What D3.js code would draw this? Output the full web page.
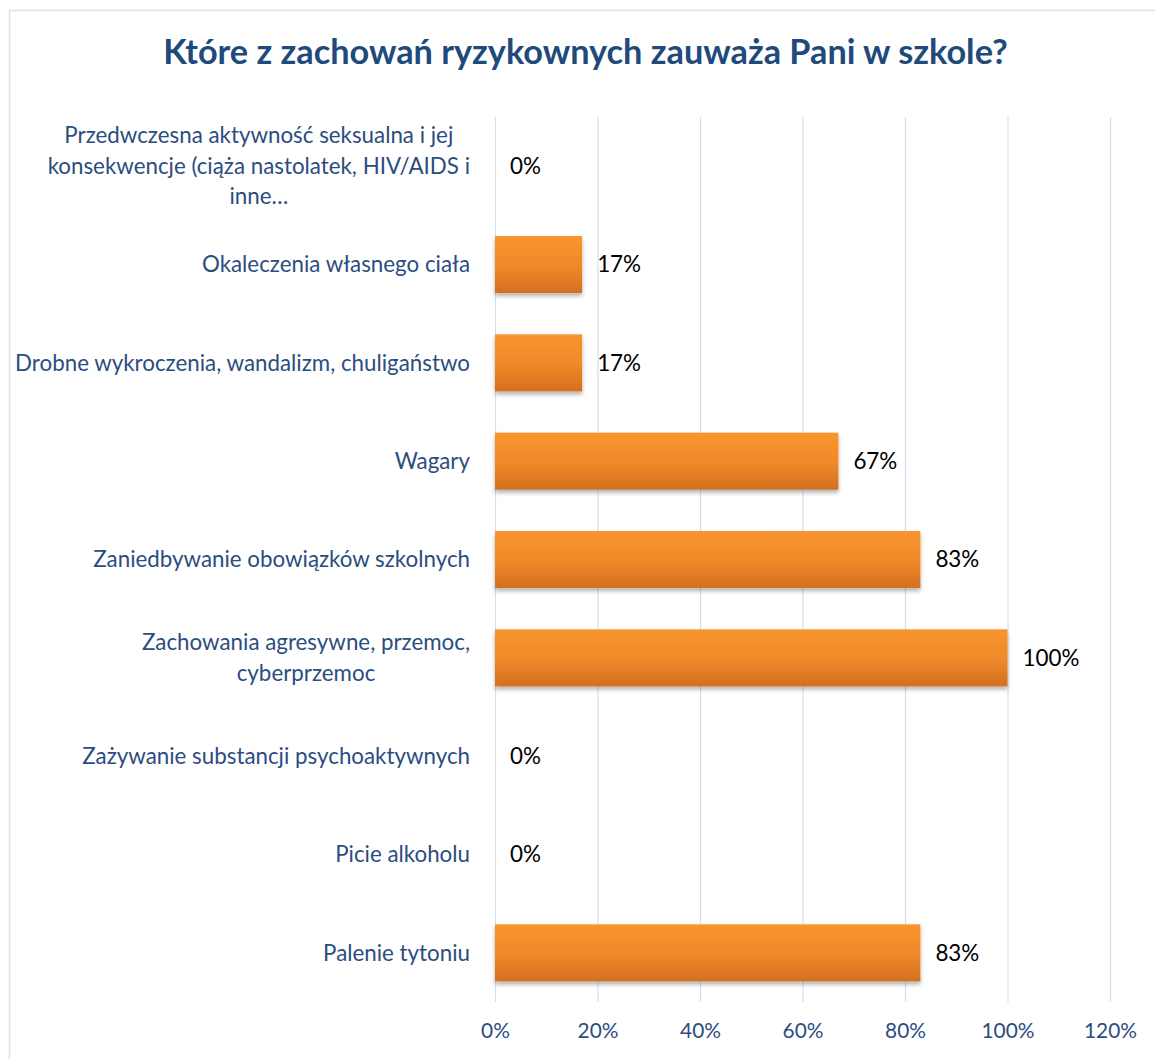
<!DOCTYPE html>
<html>
<head>
<meta charset="utf-8">
<script src="https://cdn.jsdelivr.net/npm/d3@7"></script>
<style>
  html, body { margin: 0; padding: 0; background: #fff; }
  svg { display: block; }
</style>
</head>
<body>
<div id="chart"></div>
<script>
// Chart data (top to bottom, as in the picture)
const title = "Które z zachowań ryzykownych zauważa Pani w szkole?";
const categories = [
  "Przedwczesna aktywność seksualna i jej\nkonsekwencje (ciąża nastolatek, HIV/AIDS i\ninne…",
  "Okaleczenia własnego ciała",
  "Drobne wykroczenia, wandalizm, chuligaństwo",
  "Wagary",
  "Zaniedbywanie obowiązków szkolnych",
  "Zachowania agresywne, przemoc,\ncyberprzemoc",
  "Zażywanie substancji psychoaktywnych",
  "Picie alkoholu",
  "Palenie tytoniu"
];
const values = [0, 17, 17, 67, 83, 100, 0, 0, 83];
const ticks = [0, 20, 40, 60, 80, 100, 120];

const width = 1155, height = 1059;
const fontFamily = "Lato, 'Open Sans', sans-serif";
const labelColor = "#2b4d7f";
const titleColor = "#1f4a7c";
const gridColor = "#d3dff0";

const svg = d3.select("#chart").append("svg")
  .attr("width", width)
  .attr("height", height);

// find a font size so that a string reaches a given width
function fitSize(str, targetWidth, weight) {
  const t = svg.append("text")
    .attr("font-family", fontFamily)
    .attr("font-size", 100)
    .attr("font-weight", weight || "normal")
    .text(str);
  const w = t.node().getComputedTextLength();
  t.remove();
  return 100 * targetWidth / w;
}

const titleSize = fitSize(title, 845, "bold");
const labelSize = fitSize("Drobne wykroczenia, wandalizm, chuligaństwo", 455);
const valueSize = fitSize("100%", 57);
const tickSize = fitSize("100%", 53);

// defs: gradient + shadow for the bars
const defs = svg.append("defs");
const grad = defs.append("linearGradient")
  .attr("id", "barGrad")
  .attr("x1", 0).attr("y1", 0).attr("x2", 0).attr("y2", 1);
grad.append("stop").attr("offset", "0%").attr("stop-color", "#f9952f");
grad.append("stop").attr("offset", "55%").attr("stop-color", "#ee8829");
grad.append("stop").attr("offset", "100%").attr("stop-color", "#d26f20");

const shadow = defs.append("filter")
  .attr("id", "shadow")
  .attr("x", "-5%").attr("y", "-20%")
  .attr("width", "110%").attr("height", "160%");
shadow.append("feDropShadow")
  .attr("dx", 0).attr("dy", 3)
  .attr("stdDeviation", 2.2)
  .attr("flood-color", "#000")
  .attr("flood-opacity", 0.3);

// chart frame
svg.append("rect")
  .attr("x", 9.5).attr("y", 10.5)
  .attr("width", width + 20).attr("height", height + 20)
  .attr("fill", "none")
  .attr("stroke", "#d9e4f2")
  .attr("stroke-width", 1.5);

// title
svg.append("text")
  .attr("x", 585.5).attr("y", 64)
  .attr("text-anchor", "middle")
  .attr("font-family", fontFamily)
  .attr("font-weight", "bold")
  .attr("font-size", titleSize)
  .attr("fill", titleColor)
  .text(title);

// scales
const x = d3.scaleLinear()
  .domain([0, 120])
  .range([495, 1110]);

const y = d3.scaleBand()
  .domain(categories)
  .range([117, 1002])
  .paddingInner(0.42)
  .paddingOuter(0.21);

// gridlines
svg.append("g")
  .selectAll("line")
  .data(ticks)
  .join("line")
  .attr("x1", d => x(d) + 0.5)
  .attr("x2", d => x(d) + 0.5)
  .attr("y1", 117)
  .attr("y2", 1002)
  .attr("stroke", gridColor)
  .attr("stroke-width", 1.2);

// x axis tick labels
const xAxis = svg.append("g")
  .attr("transform", "translate(0,1002)")
  .call(d3.axisBottom(x).tickValues(ticks).tickFormat(d => d + "%").tickSize(0).tickPadding(21));
xAxis.select(".domain").remove();
xAxis.selectAll("text")
  .attr("font-family", fontFamily)
  .attr("font-size", tickSize)
  .attr("fill", labelColor);

// bars
svg.append("g")
  .selectAll("rect")
  .data(values)
  .join("rect")
  .attr("x", x(0))
  .attr("y", (d, i) => y(categories[i]))
  .attr("width", d => x(d) - x(0))
  .attr("height", y.bandwidth())
  .attr("fill", "url(#barGrad)")
  .attr("filter", "url(#shadow)")
  .style("display", d => d > 0 ? null : "none");

// value labels
svg.append("g")
  .selectAll("text")
  .data(values)
  .join("text")
  .attr("x", d => x(d) + 15)
  .attr("y", (d, i) => y(categories[i]) + y.bandwidth() / 2)
  .attr("dy", "0.35em")
  .attr("font-family", fontFamily)
  .attr("font-size", valueSize)
  .attr("fill", "#000")
  .text(d => d + "%");

// category labels: lines centred inside a block that is right-aligned at x=470
const lineHeight = 30.5;
const labelGroup = svg.append("g");
categories.forEach(cat => {
  const lines = cat.split("\n");
  const g = labelGroup.append("g");
  const cy = y(cat) + y.bandwidth() / 2;
  const texts = g.selectAll("text")
    .data(lines)
    .join("text")
    .attr("y", (d, i) => cy + (i - (lines.length - 1) / 2) * lineHeight)
    .attr("dy", "0.35em")
    .attr("text-anchor", "middle")
    .attr("font-family", fontFamily)
    .attr("font-size", labelSize)
    .attr("fill", labelColor)
    .text(d => d);
  const maxW = d3.max(texts.nodes(), n => n.getComputedTextLength());
  texts.attr("x", 470 - maxW / 2);
});
</script>
</body>
</html>
